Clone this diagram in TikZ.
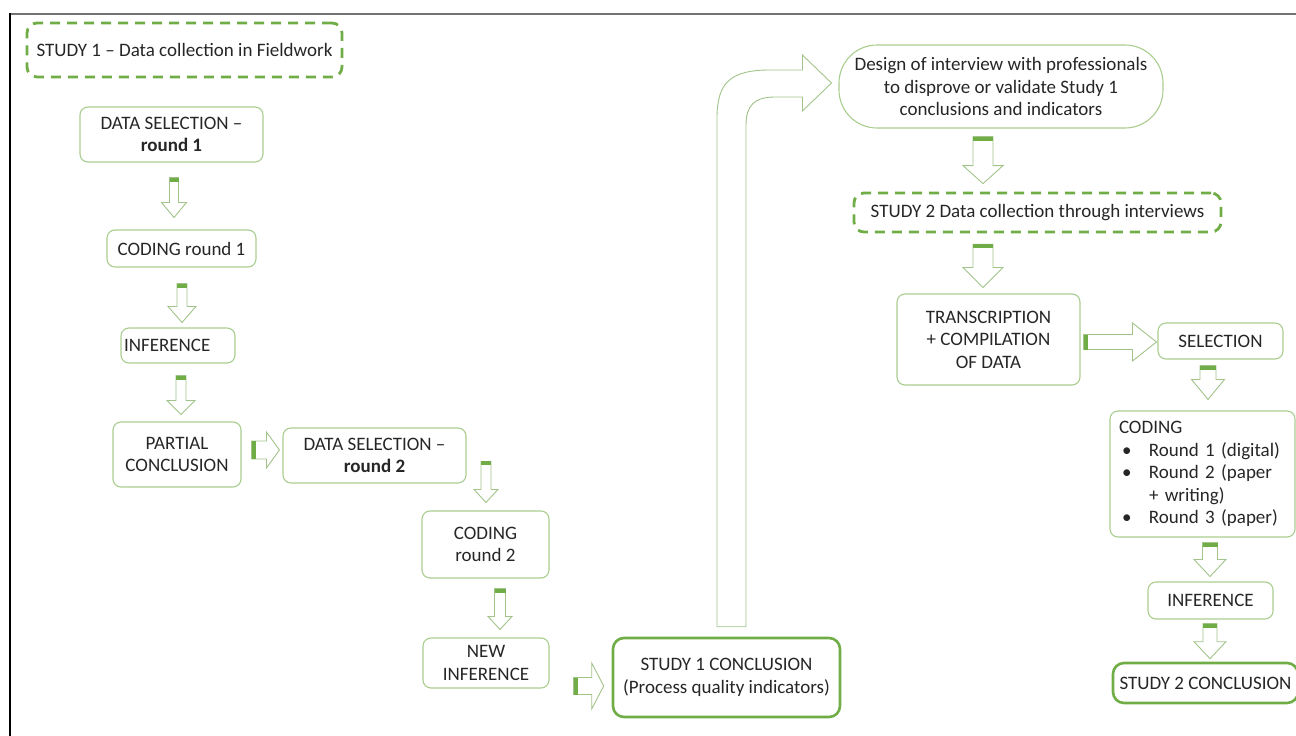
\documentclass[tikz,border=0pt]{standalone}
\usepackage{fontspec}
\setmainfont{Carlito}
\usetikzlibrary{calc}
\definecolor{lgreen}{HTML}{A9CD8F}
\definecolor{dgreen}{HTML}{70AD47}
\definecolor{agreen}{HTML}{A2C48A}
\definecolor{txtgray}{HTML}{262626}
\tikzset{
	box/.style={draw=lgreen, line width=1.1pt, rounded corners=8pt, align=center, text=txtgray, inner sep=2pt},
	boldbox/.style={box, draw=dgreen, line width=2.6pt, rounded corners=11pt},
	dashbox/.style={box, draw=dgreen, line width=2.8pt, dash pattern=on 10pt off 7pt, rounded corners=10pt},
	arrline/.style={draw=agreen, line width=0.9pt, fill=white, line join=miter},
	arrcap/.style={fill=dgreen},
}
% block arrows: #1 start, #2 tip, #3 half shaft, #4 half head, #5 head length
\newcommand{\blkdown}[5]{%
	\draw[arrline] ($(#1)+(-#3,0)$) -- ($(#2)+(-#3,-#5)$) -- ($(#2)+(-#4,-#5)$) -- (#2) -- ($(#2)+(#4,-#5)$) -- ($(#2)+(#3,-#5)$) -- ($(#1)+(#3,0)$) -- cycle;
	\fill[arrcap] ($(#1)+(-#3,0)$) rectangle ($(#1)+(#3,4)$);}
\newcommand{\blkright}[5]{%
	\draw[arrline] ($(#1)+(0,-#3)$) -- ($(#2)+(-#5,-#3)$) -- ($(#2)+(-#5,-#4)$) -- (#2) -- ($(#2)+(-#5,#4)$) -- ($(#2)+(-#5,#3)$) -- ($(#1)+(0,#3)$) -- cycle;
	\fill[arrcap] ($(#1)+(0,-#3)$) rectangle ($(#1)+(4,#3)$);}

\begin{document}
\begin{tikzpicture}[x=1pt,y=-1pt,font=\fontsize{19}{22.5}\selectfont]
	\useasboundingbox (0,0) rectangle (1296,736);
	\draw[line width=2pt, black!55] (10,13.5) -- (1296,13.5);
	\draw[line width=2pt, black] (10,12.5) -- (10,736);
	\node[dashbox, minimum width=315pt, minimum height=54pt] (st1) at (184.5,50) {STUDY 1 – Data collection in Fieldwork};
	\node[box, minimum width=183pt, minimum height=55pt] (ds1) at (171.5,134.5) {DATA SELECTION –\\\textbf{round 1}};
	\node[box, minimum width=149pt, minimum height=37pt] (cod1) at (181.5,248.5) {CODING round 1};
	\node[box, minimum width=114pt, minimum height=35pt, text width=108pt, align=left] (inf1) at (178,345.5) {INFERENCE};
	\node[box, minimum width=128pt, minimum height=65pt] (part) at (177,454.5) {PARTIAL\\CONCLUSION};
	\node[box, minimum width=183pt, minimum height=55pt] (ds2) at (374.5,455.5) {DATA SELECTION –\\\textbf{round 2}};
	\node[box, minimum width=127pt, minimum height=67pt] (cod2) at (485.5,544.5) {CODING\\round 2};
	\node[box, minimum width=126pt, minimum height=50pt] (newinf) at (486,663) {NEW\\INFERENCE};
	\node[boldbox, minimum width=227pt, minimum height=79pt] (s1conc) at (726.5,677.5) {STUDY 1 CONCLUSION\\(Process quality indicators)};
	\node[box, rounded corners=38pt, minimum width=324pt, minimum height=83pt] (design) at (1001,86.5) {Design of interview with professionals\\to disprove or validate Study 1\\conclusions and indicators};
	\node[dashbox, minimum width=367pt, minimum height=39pt] (st2) at (1037.5,212.5) {STUDY 2 Data collection through interviews};
	\node[box, minimum width=183pt, minimum height=91pt] (trans) at (988.5,339.5) {TRANSCRIPTION\\+ COMPILATION\\OF DATA};
	\node[box, minimum width=125pt, minimum height=36pt] (sel) at (1220.5,341) {SELECTION};
	\node[box, minimum width=185pt, minimum height=126pt, text width=167pt, align=left] (codl) at (1202.5,474) {CODING\\
		\hspace*{3pt}\makebox[27pt][l]{\textbullet}Round 1 (digital)\\
		\hspace*{3pt}\makebox[27pt][l]{\textbullet}Round 2 (paper\\
		\hspace*{30pt}+ writing)\\
		\hspace*{3pt}\makebox[27pt][l]{\textbullet}Round 3 (paper)};
	\node[box, minimum width=125pt, minimum height=37pt] (inf2) at (1210.5,600.5) {INFERENCE};
	\node[boldbox, minimum width=185pt, minimum height=40pt] (s2conc) at (1205.5,683) {STUDY 2 CONCLUSION};
	\coordinate (a1s) at ($(ds1.south)+(2.5,15)$);
	\coordinate (a1e) at ($(a1s|-cod1.north)+(0,-12)$);
	\coordinate (a2s) at ($(cod1.south)+(0.5,16)$);
	\coordinate (a2e) at ($(a2s|-inf1.north)+(0,-5)$);
	\coordinate (a3s) at ($(inf1.south)+(3,12)$);
	\coordinate (a3e) at ($(a3s|-part.north)+(0,-7)$);
	\coordinate (a4s) at ($(cod2.north)+(0.5,-49)$);
	\coordinate (a4e) at ($(cod2.north)+(0.5,-8)$);
	\coordinate (a5s) at ($(cod2.south)+(14.5,10)$);
	\coordinate (a5e) at ($(a5s|-newinf.north)+(0,-8)$);
	\coordinate (a6s) at ($(design.south)+(-18,8)$);
	\coordinate (a6e) at ($(a6s|-st2.north)+(0,-8)$);
	\coordinate (a7s) at ($(st2.south)+(-54.5,11)$);
	\coordinate (a7e) at ($(a7s|-trans.north)+(0,-6)$);
	\coordinate (a8s) at ($(sel.south)+(-12.5,6)$);
	\coordinate (a8e) at ($(a8s|-codl.north)+(0,-11)$);
	\coordinate (a9s) at ($(codl.south)+(7.5,5)$);
	\coordinate (a9e) at ($(a9s|-inf2.north)+(0,-5)$);
	\coordinate (a10s) at ($(inf2.south)+(-0.5,4)$);
	\coordinate (a10e) at ($(a10s|-s2conc.north)+(0,-3)$);
	\blkdown{a1s}{a1e}{4.5}{12.5}{15}
	\blkdown{a2s}{a2e}{5}{14}{16}
	\blkdown{a3s}{a3e}{5}{14}{14}
	\blkdown{a4s}{a4e}{5}{12}{13}
	\blkdown{a5s}{a5e}{5.5}{12}{13}
	\blkdown{a6s}{a6e}{10}{20}{18}
	\blkdown{a7s}{a7e}{10}{20}{20}
	\blkdown{a8s}{a8e}{8}{16.5}{20}
	\blkdown{a9s}{a9e}{7.5}{16}{17}
	\blkdown{a10s}{a10e}{7}{16}{17}
	\coordinate (r1s) at ($(part.east)+(10,-4.5)$);
	\coordinate (r1e) at ($(r1s-|ds2.west)+(-3,0)$);
	\coordinate (r2s) at ($(newinf.east)+(24,23)$);
	\coordinate (r2e) at ($(r2s-|s1conc.west)+(-8,0)$);
	\coordinate (r3s) at ($(trans.east)+(3,2.5)$);
	\coordinate (r3e) at ($(r3s-|sel.west)+(-1,0)$);
	\blkright{r1s}{r1e}{9}{18}{13}
	\blkright{r2s}{r2e}{8.5}{23}{12}
	\blkright{r3s}{r3e}{7.5}{19}{24}
	\coordinate (up0) at ($(s1conc.north)+(5.5,-10)$);
	\coordinate (up1) at ($(design.west)+(-7,-3.5)$);
	\coordinate (upc) at (up0|-up1);
	\draw[arrline] ($(up0)+(-15,0)$) -- ($(upc)+(-15,35)$) .. controls ($(upc)+(-15,0)$) and ($(upc)+(-2,-13)$) .. ($(upc)+(38,-13)$) -- ($(up1)+(-29,-13)$) -- ($(up1)+(-29,-28)$) -- (up1) -- ($(up1)+(-29,28)$) -- ($(up1)+(-29,14)$) -- ($(upc)+(43,14)$) .. controls ($(upc)+(23,14)$) and ($(upc)+(14,22)$) .. ($(upc)+(14,42)$) -- ($(up0)+(14,0)$) -- cycle;
\end{tikzpicture}
\end{document}
